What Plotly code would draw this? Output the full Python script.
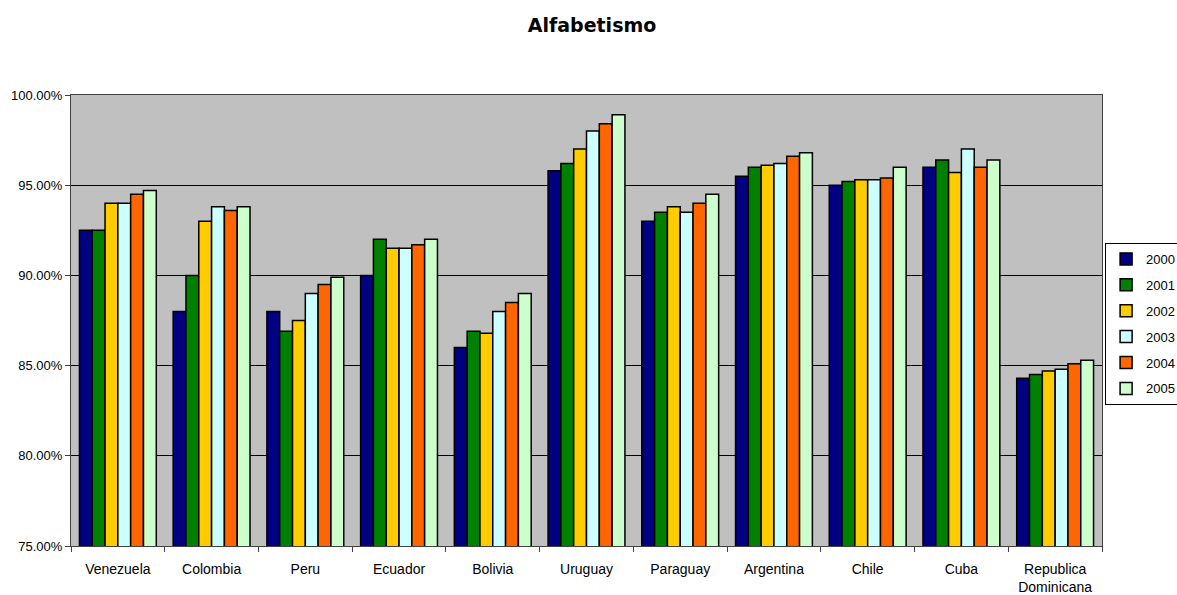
import plotly.graph_objects as go

# Literacy rate by country and year
countries = ["Venezuela", "Colombia", "Peru", "Ecuador", "Bolivia", "Uruguay",
             "Paraguay", "Argentina", "Chile", "Cuba", "Republica<br>Dominicana"]
years = ["2000", "2001", "2002", "2003", "2004", "2005"]

v2000 = [92.5, 88.0, 88.0, 90.0, 86.0, 95.8, 93.0, 95.5, 95.0, 96.0, 84.3]
v2001 = [92.5, 90.0, 86.9, 92.0, 86.9, 96.2, 93.5, 96.0, 95.2, 96.4, 84.5]
v2002 = [94.0, 93.0, 87.5, 91.5, 86.8, 97.0, 93.8, 96.1, 95.3, 95.7, 84.7]
v2003 = [94.0, 93.8, 89.0, 91.5, 88.0, 98.0, 93.5, 96.2, 95.3, 97.0, 84.8]
v2004 = [94.5, 93.6, 89.5, 91.7, 88.5, 98.4, 94.0, 96.6, 95.4, 96.0, 85.1]
v2005 = [94.7, 93.8, 89.9, 92.0, 89.0, 98.9, 94.5, 96.8, 96.0, 96.4, 85.3]

series = [v2000, v2001, v2002, v2003, v2004, v2005]
colors = ["#000080", "#008000", "#FFCC00", "#CCFFFF", "#FF6600", "#CCFFCC"]

fig = go.Figure()
for year, vals, col in zip(years, series, colors):
    fig.add_trace(go.Bar(
        x=countries,
        y=[v / 100 for v in vals],
        name=year,
        legendgroup=year,
        marker=dict(color=col, line=dict(color="black", width=1.5)),
    ))

font_main = "Arial, 'Liberation Sans', sans-serif"

fig.update_layout(
    width=1177,
    height=595,
    margin=dict(l=71, r=75, t=95, b=49, autoexpand=False),
    paper_bgcolor="white",
    plot_bgcolor="#C0C0C0",
    barmode="group",
    bargap=0.18,
    bargroupgap=0,
    title=dict(
        text="<b>Alfabetismo</b>",
        x=0.503, xanchor="center",
        y=0.958, yanchor="middle",
        font=dict(family="'DejaVu Sans', sans-serif", size=19, color="black"),
    ),
    font=dict(family=font_main, size=13, color="black"),
    legend=dict(
        x=1.003, xanchor="left",
        y=0.672, yanchor="top",
        bgcolor="white",
        bordercolor="black",
        borderwidth=1,
        tracegroupgap=6,
        traceorder="grouped",
        font=dict(family=font_main, size=13, color="black"),
    ),
    xaxis=dict(
        showline=True, linecolor="#404040", linewidth=1, mirror=True,
        ticks="outside", tickson="boundaries", ticklen=5, tickcolor="#404040",
        showgrid=False,
        ticklabelstandoff=10,
        tickfont=dict(family=font_main, size=14),
    ),
    yaxis=dict(
        range=[0.75, 1.0],
        dtick=0.05,
        tickformat=".2%",
        showline=True, linecolor="#404040", linewidth=1, mirror=True,
        ticks="outside", ticklen=5, tickcolor="#404040",
        showgrid=True, gridcolor="#000000", gridwidth=1,
        zeroline=False,
        tickfont=dict(family=font_main, size=13),
    ),
)

fig.write_html("out.html")
